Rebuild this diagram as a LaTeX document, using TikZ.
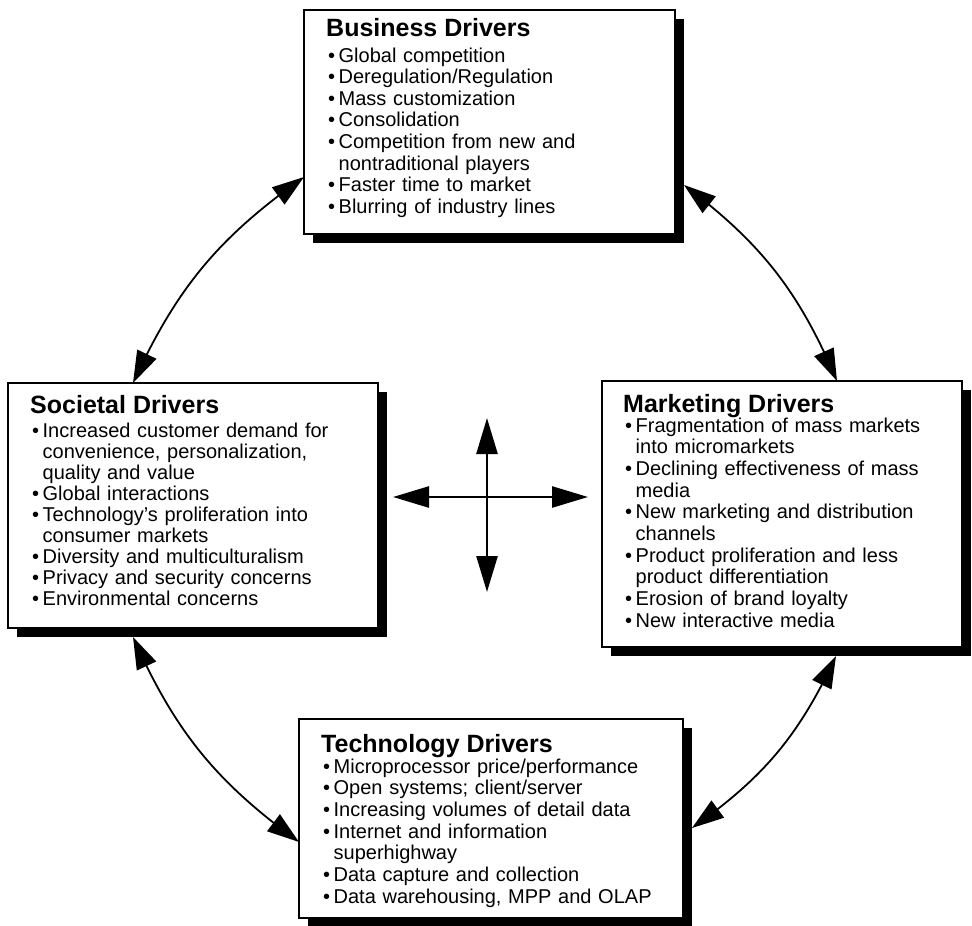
\documentclass[tikz,border=0pt]{standalone}
\usepackage{fontspec}
\setmainfont{Liberation Sans}
\usetikzlibrary{arrows.meta,shadows,bending}

% bullet in front of an entry, and the indent of a wrapped continuation line
\newcommand\drvb{\makebox[10.5pt][l]{\textbullet}}
\newcommand\drvc{\hspace*{10.5pt}}

\tikzset{
  driverbox/.style={draw, line width=1.6pt, fill=white, anchor=north west,
    inner sep=0pt, outer sep=0pt,
    drop shadow={shadow xshift=9pt, shadow yshift=-9pt, fill=black, opacity=1}},
  boxtitle/.style={anchor=base west, inner sep=0pt,
    font=\bfseries\fontsize{25}{28}\selectfont},
  boxlist/.style={anchor=base west, inner sep=0pt, text width=370pt, align=left,
    font=\fontsize{20}{#1}\selectfont},
  boxlist/.default=21.6,
  link/.style={line width=1.8pt,
    {Triangle[length=32pt,width=21pt]}-{Triangle[length=32pt,width=21pt]}},
  crossarrow/.style={line width=2.6pt, -{Triangle[length=36pt,width=21pt]}}
}

\begin{document}
\begin{tikzpicture}[x=1pt,y=1pt]
\useasboundingbox (0,0) rectangle (972,-926);

% ---- Business drivers ----
\node[driverbox, minimum width=371pt, minimum height=224pt] (biz) at (304,-10) {};
\node[boxtitle] (bizT) at (326,-36) {Business Drivers};
\node[boxlist] (bizL) at (328,-62) {\drvb Global competition\\
\drvb Deregulation/Regulation\\
\drvb Mass customization\\
\drvb Consolidation\\
\drvb Competition from new and\\
\drvc nontraditional players\\
\drvb Faster time to market\\
\drvb Blurring of industry lines};

% ---- Societal drivers ----
\node[driverbox, minimum width=370pt, minimum height=245pt] (soc) at (8,-383) {};
\node[boxtitle] (socT) at (30,-413) {Societal Drivers};
\node[boxlist=21] (socL) at (32,-437) {\drvb Increased customer demand for\\
\drvc convenience, personalization,\\
\drvc quality and value\\
\drvb Global interactions\\
\drvb Technology’s proliferation into\\
\drvc consumer markets\\
\drvb Diversity and multiculturalism\\
\drvb Privacy and security concerns\\
\drvb Environmental concerns};

% ---- Marketing drivers ----
\node[driverbox, minimum width=360pt, minimum height=266pt] (mkt) at (602,-381) {};
\node[boxtitle] (mktT) at (623,-412) {Marketing Drivers};
\node[boxlist=21.7] (mktL) at (625,-432) {\drvb Fragmentation of mass markets\\
\drvc into micromarkets\\
\drvb Declining effectiveness of mass\\
\drvc media\\
\drvb New marketing and distribution\\
\drvc channels\\
\drvb Product proliferation and less\\
\drvc product differentiation\\
\drvb Erosion of brand loyalty\\
\drvb New interactive media};

% ---- Technology drivers ----
\node[driverbox, minimum width=384pt, minimum height=199pt] (tech) at (299,-719) {};
\node[boxtitle] (techT) at (321,-752) {Technology Drivers};
\node[boxlist=21.7] (techL) at (323,-773) {\drvb Microprocessor price/performance\\
\drvb Open systems; client/server\\
\drvb Increasing volumes of detail data\\
\drvb Internet and information\\
\drvc superhighway\\
\drvb Data capture and collection\\
\drvb Data warehousing, MPP and OLAP};

% ---- two-way links round the ring ----
\draw[link] ([yshift=57pt]biz.south west) to[bend right=15] ([xshift=125pt]soc.north west);
\draw[link] ([shift={(9pt,49pt)}]biz.south east) to[bend left=15] ([xshift=235pt]mkt.north west);
\draw[link] ([shift={(125pt,-9pt)}]soc.south west) to[bend right=15] ([yshift=76pt]tech.south west);
\draw[link] ([shift={(234pt,-9pt)}]mkt.south west) to[bend left=15] ([shift={(9pt,90pt)}]tech.south east);

% ---- central cross ----
\coordinate (hub) at (487,-497);
\coordinate (hubN) at (487,-418);
\coordinate (hubS) at (487,-592);
\coordinate (hubW) at (393,-497);
\coordinate (hubE) at (588,-497);
\draw[crossarrow] (hub) -- (hubN);
\draw[crossarrow] (hub) -- (hubS);
\draw[crossarrow] (hub) -- (hubW);
\draw[crossarrow] (hub) -- (hubE);
\end{tikzpicture}
\end{document}
